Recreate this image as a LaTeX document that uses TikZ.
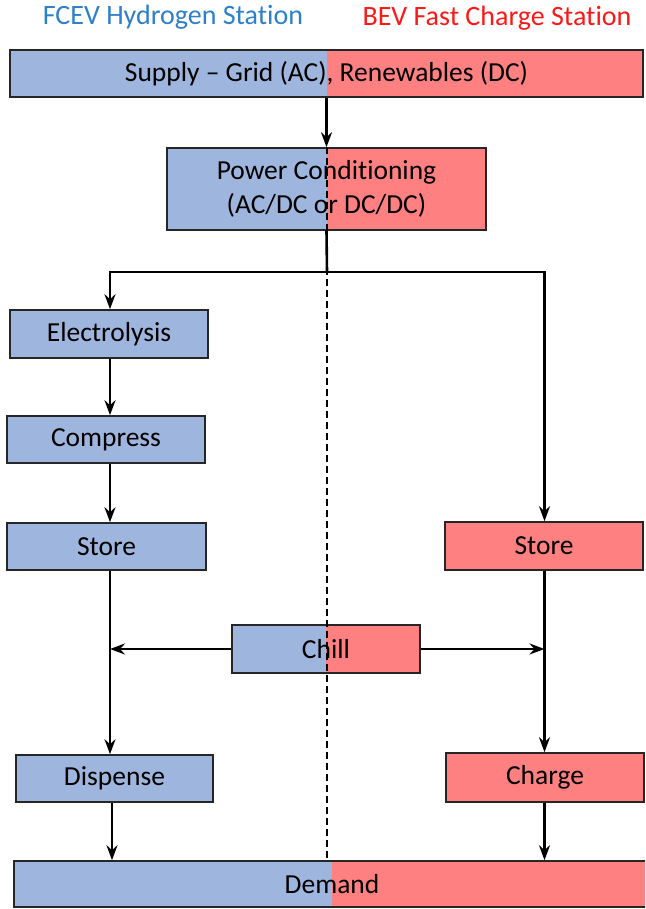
\documentclass[tikz,border=0pt]{standalone}
\usepackage{fontspec}
\setmainfont{Carlito}[Ligatures={NoCommon}]
\usetikzlibrary{arrows.meta}
\definecolor{bluefill}{RGB}{158,181,221}
\definecolor{redfill}{RGB}{255,128,128}
\definecolor{titleblue}{RGB}{46,128,200}
\definecolor{titlered}{RGB}{250,25,25}
\begin{document}
\begin{tikzpicture}[x=1pt,y=-1pt,
  box/.style={draw=black!85, line width=1.6pt, inner sep=0pt, font=\fontsize{27.5}{34}\selectfont, align=center},
  hbox/.style={box, fill=bluefill},
  bbox/.style={box, fill=redfill},
  sbox/.style={box, path picture={
      \fill[bluefill] (path picture bounding box.south west) rectangle (path picture bounding box.north);
      \fill[redfill] (path picture bounding box.south) rectangle (path picture bounding box.north east);}},
  title/.style={font=\fontsize{28}{30}\selectfont, inner sep=0pt},
  arr/.style={line width=2.6pt, -{Stealth[length=15pt,width=11pt,inset=5pt]}},
  conn/.style={line width=2.6pt},
  divider/.style={line width=1.2pt, dash pattern=on 7pt off 4pt}]
\useasboundingbox (0,0) rectangle (645,909);
\clip (0,0) rectangle (645,909);

% titles
\node[title, text=titleblue] (t1) at (173,17) {FCEV Hydrogen Station};
\node[title, text=titlered] (t2) at (497,18) {BEV Fast Charge Station};

% boxes
\node[sbox, minimum width=633pt, minimum height=47pt] (supply) at (326.5,73.5) {Supply – Grid (AC), Renewables (DC)};
\node[sbox, minimum width=319pt, minimum height=82pt] (pc) at (326.5,189) {Power Conditioning\\(AC/DC or DC/DC)};
\node[hbox, minimum width=198pt, minimum height=48pt] (elec) at (109,334) {Electrolysis};
\node[hbox, minimum width=198pt, minimum height=47pt] (comp) at (106,439.5) {Compress};
\node[hbox, minimum width=199pt, minimum height=47pt] (storeL) at (106.5,546.5) {Store};
\node[bbox, minimum width=198pt, minimum height=48pt] (storeR) at (544,546) {Store};
\node[sbox, minimum width=188pt, minimum height=48pt] (chill) at (326,649) {Chill};
\node[hbox, minimum width=197pt, minimum height=47pt] (disp) at (114.5,778.5) {Dispense};
\node[bbox, minimum width=198pt, minimum height=49pt] (charge) at (545,777.5) {Charge};
\node[sbox, minimum width=636pt, minimum height=46pt] (demand) at (332,884) {Demand};

% helper coordinates
\coordinate (colL) at (110,0);
\coordinate (colR) at (544.5,0);
\coordinate (br) at (327,272);

% dashed divider
\draw[divider] (pc.north -| br) -- (demand.north -| br);

% connectors
\draw[arr] (supply.south) -- (pc.north);
\draw[conn] (pc.south) -- (br);
\draw[arr] (br) -| (elec.north -| colL);
\draw[arr] (br) -| (storeR.north -| colR);
\draw[arr] (elec.south -| colL) -- (comp.north -| colL);
\draw[arr] (comp.south -| colL) -- (storeL.north -| colL);
\draw[arr] (storeL.south -| colL) -- (disp.north -| colL);
\draw[arr] (storeR.south -| colR) -- (charge.north -| colR);
\draw[arr] (chill.west) -- (chill.west -| colL);
\draw[arr] (chill.east) -- (chill.east -| colR);
\draw[arr] (disp.south -| colL) ++(2,0) coordinate (dd) -- (demand.north -| dd);
\draw[arr] (charge.south -| colR) -- (demand.north -| colR);
\end{tikzpicture}
\end{document}
